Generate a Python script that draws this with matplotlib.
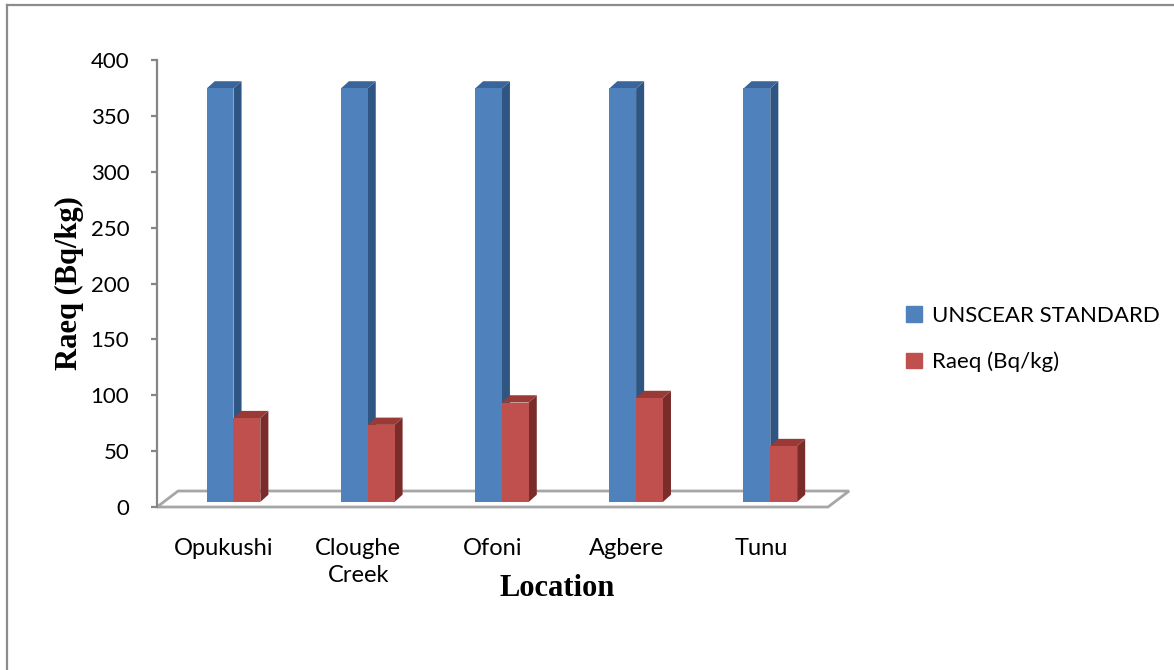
import matplotlib.pyplot as plt
from matplotlib.patches import Polygon, Patch
from matplotlib.lines import Line2D

plt.rcParams['font.family'] = ['Lato', 'DejaVu Sans']

locations = ['Opukushi', 'Cloughe\nCreek', 'Ofoni', 'Agbere', 'Tunu']
unscear = [370, 370, 370, 370, 370]
raeq = [75, 69, 89, 93, 50]
series_names = ['UNSCEAR STANDARD', 'Raeq (Bq/kg)']
yticks = [0, 50, 100, 150, 200, 250, 300, 350, 400]

W, H = 1174, 670
fig = plt.figure(figsize=(W / 100, H / 100), dpi=100)
ax = fig.add_axes([157 / W, 1 - 507 / H, 671 / W, 447 / H])
ax.set_xlim(-0.5, len(locations) - 0.5)
ax.set_ylim(0, 400)

# fake 3d: floor depth, bar plane offset and bar depth (data units)
floor_dx, floor_dy = 0.157, 14.3
shift_x, base = 0.07, 4.5
depth_x, depth_y = 0.06, 6.5
bw = 0.2

blue = ('#4F81BD', '#2F5582', '#3A659A')
red = ('#C0504D', '#7A2C2A', '#9A3A37')

# floor
n = len(locations)
floor = Polygon([(-0.5, 0), (n - 0.5, 0), (n - 0.5 + floor_dx, floor_dy),
                 (-0.5 + floor_dx, floor_dy)], closed=True, facecolor='white',
                edgecolor='#A6A6A6', lw=2, clip_on=False, zorder=1)
ax.add_patch(floor)


def bar3d(x0, h, cols, z):
    x1 = x0 + bw
    top = base + h
    side = Polygon([(x1, base), (x1 + depth_x, base + depth_y),
                    (x1 + depth_x, top + depth_y), (x1, top)],
                   closed=True, facecolor=cols[1], lw=0, clip_on=False, zorder=z)
    cap = Polygon([(x0, top), (x1, top), (x1 + depth_x, top + depth_y),
                   (x0 + depth_x, top + depth_y)],
                  closed=True, facecolor=cols[2], lw=0, clip_on=False, zorder=z)
    ax.add_patch(side)
    ax.add_patch(cap)
    ax.bar(x0, h, width=bw, bottom=base, align='edge', color=cols[0],
           lw=0, zorder=z + 0.1, clip_on=False)


for i in range(n):
    c = i + shift_x
    bar3d(c - bw, unscear[i], blue, 2 + i)
    bar3d(c, raeq[i], red, 2.5 + i)

# axes styling
for s in ['top', 'right', 'bottom']:
    ax.spines[s].set_visible(False)
ax.spines['left'].set_color('#868686')
ax.spines['left'].set_linewidth(1.6)
ax.set_yticks(yticks)
ax.tick_params(axis='y', length=4, width=1.6, color='#868686', pad=16,
               labelsize=16)
ax.set_xticks(range(n))
ax.set_xticklabels(locations, fontsize=17, linespacing=1.35)
ax.tick_params(axis='x', length=0, pad=22)

fig.text(557 / W, 1 - 588 / H, 'Location', ha='center', va='center',
         family='Liberation Serif', fontweight='bold', fontsize=22)
fig.text(69 / W, 1 - 283 / H, 'Raeq (Bq/kg)', ha='center', va='center',
         rotation=90, family='Liberation Serif', fontweight='bold', fontsize=22)

handles = [Patch(color=blue[0]), Patch(color=red[0])]
ax.legend(handles, series_names, loc='center left',
          bbox_to_anchor=(906 / W, 1 - 339 / H), bbox_transform=fig.transFigure,
          frameon=False, fontsize=16, handlelength=0.7, handleheight=0.7,
          handletextpad=0.45, labelspacing=1.15, borderpad=0, borderaxespad=0)

# outer frame (left and top edges)
fig.add_artist(Line2D([6.5 / W, 6.5 / W], [0, 1 - 5 / H], color='#8C8C8C', lw=1.6))
fig.add_artist(Line2D([6.5 / W, 1], [1 - 5 / H, 1 - 5 / H], color='#8C8C8C', lw=1.6))

fig.savefig('out.png', dpi=100, facecolor='white')
